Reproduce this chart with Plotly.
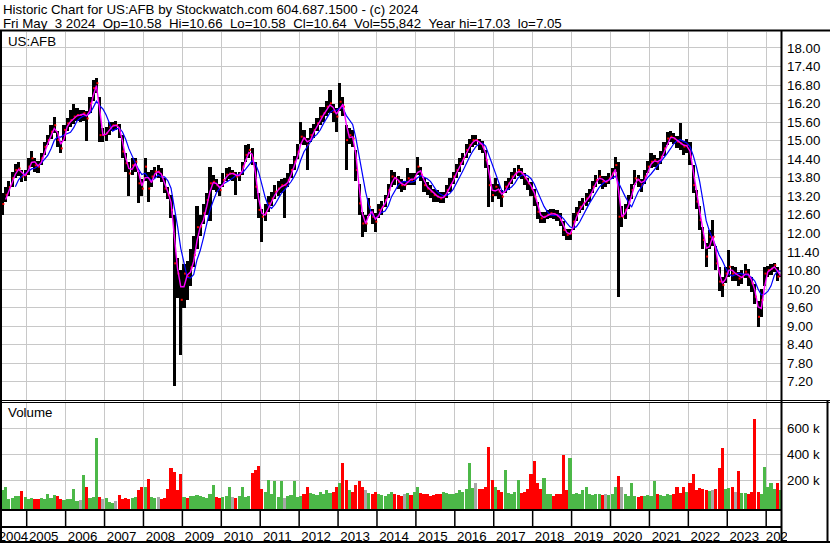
import plotly.graph_objects as go
import pandas as pd

# ---------------- data (monthly, May 2004 .. May 2024) ----------------
START_YEAR, START_MONTH = 2004, 5

close = [
    12.95, 13.25, 13.5, 13.78, 14.05, 14.1, 13.84, 13.9,
    14.16, 14.43, 14.2, 14.16, 14.43, 14.8, 15.02, 15.29, 15.5, 15.02, 14.75, 15.35,
    15.56, 15.67, 15.78, 15.83, 15.83, 15.89, 15.72, 16.21, 16.7, 16.86, 15.18, 15.18,
    15.24, 15.45, 15.5, 15.5, 15.35, 14.65, 14.27, 13.94, 14.2, 14.32, 13.62, 13.45,
    14.16, 13.45, 13.84, 14.0, 14.0, 13.84, 13.45, 13.25, 12.76, 11.03, 10.7, 9.85,
    10.7, 10.6, 10.9, 11.3, 12.2, 12.22, 12.65, 13.08, 13.62, 13.67, 13.56, 13.4,
    13.73, 13.9, 13.94, 13.94, 13.84, 13.9, 14.16, 14.54, 14.7, 14.43, 13.51, 12.76,
    12.54, 12.65, 12.97, 13.13, 13.35, 13.45, 13.56, 13.56, 13.73, 14.05, 14.32, 14.64,
    15.13, 15.07, 14.86, 15.18, 15.35, 15.56, 15.78, 15.89, 16.1, 16.21, 15.94, 15.78,
    16.26, 16.1, 15.02, 15.18, 15.07, 14.05, 12.97, 12.32, 12.32, 12.86, 12.54, 12.38,
    12.76, 12.86, 13.08, 13.4, 13.84, 13.78, 13.67, 13.56, 13.56, 13.78, 13.73, 13.78,
    14.16, 13.89, 13.56, 13.45, 13.35, 13.24, 13.19, 13.13, 13.19, 13.4, 13.56, 13.84,
    14.05, 14.27, 14.43, 14.7, 14.86, 15.02, 15.02, 14.91, 14.81, 14.37, 13.56, 13.24,
    13.51, 13.35, 13.19, 13.51, 13.62, 13.84, 13.94, 14.05, 13.94, 13.78, 13.62, 13.45,
    13.19, 12.7, 12.49, 12.54, 12.6, 12.65, 12.63, 12.57, 12.43, 12.11, 11.95, 12.0,
    12.38, 12.65, 12.86, 12.97, 13.13, 13.24, 13.51, 13.73, 13.84, 13.67, 13.67, 13.78,
    13.94, 14.21, 12.54, 12.54, 12.76, 13.02, 13.4, 13.78, 13.73, 13.56, 13.84, 14.16,
    14.32, 14.37, 14.27, 14.48, 14.75, 15.07, 15.13, 15.07, 14.97, 14.91, 14.81, 14.86,
    14.48, 13.56, 13.03, 12.43, 11.79, 11.25, 11.89, 11.89, 11.03, 10.44, 10.33, 10.7,
    10.92, 10.7, 10.7, 10.54, 10.6, 10.76, 10.6, 10.38, 9.95, 9.3, 9.84, 10.7,
    10.81, 10.86, 10.97, 10.6, 10.64,
]
high = [
    13.3, 13.5, 13.7, 14.0, 14.25, 14.3, 14.05, 14.05,
    14.45, 14.65, 14.45, 14.35, 14.6, 14.95, 15.2, 15.5, 15.78, 15.3, 15.0, 15.5,
    15.75, 16.0, 16.2, 16.05, 16.0, 16.0, 15.95, 16.4, 16.95, 17.03, 16.4, 15.4,
    15.45, 15.6, 15.6, 15.65, 15.55, 15.2, 14.6, 14.3, 14.45, 14.45, 14.0, 13.75,
    14.43, 14.0, 14.05, 14.15, 14.2, 14.1, 13.8, 13.5, 13.25, 12.6, 11.2, 10.8,
    11.0, 11.1, 11.5, 11.9, 12.9, 12.6, 12.95, 13.3, 14.15, 13.9, 13.75, 13.6,
    13.95, 14.1, 14.15, 14.05, 14.0, 14.0, 14.3, 14.86, 14.9, 14.75, 14.3, 13.3,
    12.8, 12.95, 13.2, 13.35, 13.55, 13.7, 13.75, 13.8, 13.95, 14.25, 14.5, 14.9,
    15.6, 15.35, 15.1, 15.4, 15.55, 15.75, 16.1, 16.1, 16.3, 16.64, 16.2, 16.05,
    16.88, 16.4, 15.5, 15.4, 15.35, 14.7, 13.6, 12.7, 12.6, 13.15, 12.8, 12.65,
    12.95, 13.05, 13.25, 13.6, 14.05, 14.0, 13.85, 13.75, 13.7, 14.1, 13.95, 13.95,
    14.48, 14.15, 13.8, 13.65, 13.55, 13.45, 13.4, 13.35, 13.35, 13.55, 13.8, 14.0,
    14.25, 14.45, 14.6, 14.9, 15.05, 15.18, 15.2, 15.05, 15.0, 14.7, 14.2, 13.6,
    13.8, 13.6, 13.4, 13.7, 13.8, 14.0, 14.1, 14.2, 14.1, 13.95, 13.8, 13.65,
    13.45, 13.0, 12.7, 12.7, 12.75, 12.8, 12.78, 12.75, 12.65, 12.4, 12.15, 12.15,
    12.65, 12.85, 13.05, 13.15, 13.3, 13.45, 13.7, 13.9, 14.05, 13.85, 13.85, 13.95,
    14.1, 14.48, 14.3, 12.9, 12.95, 13.25, 13.6, 14.05, 13.9, 13.75, 14.05, 14.35,
    14.6, 14.55, 14.45, 14.65, 14.95, 15.29, 15.3, 15.25, 15.15, 15.56, 15.0, 15.05,
    14.95, 14.2, 13.4, 12.9, 12.2, 11.7, 12.1, 12.43, 11.6, 10.9, 10.6, 10.9,
    11.46, 10.95, 10.9, 10.75, 10.8, 11.0, 10.85, 10.6, 10.35, 9.8, 10.2, 10.9,
    10.95, 11.0, 11.05, 10.92, 10.66,
]
low = [
    12.6, 13.0, 13.2, 13.5, 13.8, 13.85, 13.65, 13.7,
    13.9, 14.15, 14.0, 13.95, 14.2, 14.55, 14.85, 15.05, 15.25, 14.8, 14.6, 15.0,
    15.3, 15.45, 15.55, 15.65, 15.6, 15.65, 15.0, 15.9, 16.3, 16.55, 14.95, 14.95,
    15.0, 15.2, 15.3, 15.35, 15.1, 14.45, 14.0, 13.2, 13.9, 14.0, 12.97, 13.2,
    13.7, 13.0, 13.5, 13.8, 13.8, 13.65, 13.3, 13.1, 12.5, 7.05, 9.9, 8.06,
    9.6, 9.85, 10.3, 10.9, 11.5, 11.9, 12.3, 12.6, 12.4, 13.4, 13.35, 13.2,
    13.5, 13.7, 13.75, 13.7, 13.25, 13.7, 13.9, 14.3, 14.45, 14.2, 13.1, 12.5,
    11.73, 12.4, 12.7, 12.9, 13.1, 13.2, 13.3, 12.5, 13.5, 13.8, 14.05, 14.4,
    14.9, 14.85, 14.05, 14.95, 15.1, 15.3, 15.5, 15.6, 15.8, 15.9, 15.6, 15.29,
    15.95, 15.8, 14.05, 14.9, 14.8, 13.7, 12.6, 11.89, 12.05, 12.55, 12.3, 12.05,
    12.5, 12.6, 12.85, 13.15, 13.5, 13.55, 13.45, 13.35, 13.4, 13.55, 13.55, 13.55,
    13.9, 13.7, 13.35, 13.25, 13.15, 13.0, 13.0, 12.97, 12.97, 13.15, 13.35, 13.6,
    13.8, 14.0, 14.2, 14.45, 14.6, 14.8, 14.85, 14.7, 14.6, 14.1, 12.86, 13.0,
    13.2, 13.1, 12.86, 13.3, 13.4, 13.6, 13.75, 13.85, 13.75, 13.55, 13.4, 13.2,
    12.9, 12.45, 12.35, 12.35, 12.45, 12.5, 12.48, 12.4, 12.25, 11.9, 11.78, 11.8,
    12.1, 12.4, 12.65, 12.75, 12.9, 13.0, 13.3, 13.5, 13.6, 13.45, 13.5, 13.6,
    13.75, 14.0, 9.95, 12.2, 12.45, 12.8, 13.1, 13.55, 13.5, 13.35, 13.6, 13.95,
    14.1, 14.15, 14.05, 14.25, 14.5, 14.85, 14.95, 14.9, 14.75, 14.7, 14.55, 14.6,
    14.2, 13.3, 12.8, 12.1, 11.5, 10.92, 11.5, 11.6, 10.8, 10.15, 9.95, 10.4,
    10.6, 10.45, 10.45, 10.3, 10.35, 10.55, 10.3, 10.1, 9.7, 8.98, 9.3, 10.3,
    10.6, 10.65, 10.75, 10.45, 10.58,
]
volume_k = [
    125, 150, 55, 60, 80, 75, 115, 70,
    55, 60, 55, 50, 60, 55, 95, 60, 85, 80, 50, 45,
    50, 55, 130, 40, 45, 240, 150, 65, 70, 523, 70, 50,
    65, 30, 25, 35, 85, 55, 60, 55, 65, 70, 120, 150,
    150, 205, 70, 65, 70, 55, 60, 130, 290, 260, 120, 250,
    70, 65, 75, 80, 85, 75, 70, 65, 90, 160, 70, 65,
    70, 75, 150, 70, 65, 75, 150, 70, 80, 255, 275, 305,
    130, 110, 200, 90, 195, 70, 195, 65, 80, 85, 195, 70,
    80, 90, 150, 100, 90, 85, 110, 95, 120, 100, 110, 150,
    180, 330, 200, 120, 110, 160, 190, 150, 120, 100, 90, 110,
    90, 85, 80, 95, 110, 90, 85, 80, 90, 100, 85, 110,
    150, 100, 90, 95, 80, 85, 90, 95, 110, 100, 95, 90,
    100, 120, 110, 130, 330, 140, 180, 130, 130, 150, 455, 200,
    150, 120, 110, 280, 100, 95, 110, 200, 100, 110, 130, 250,
    345, 175, 130, 213, 95, 90, 80, 95, 90, 395, 120, 370,
    90, 100, 90, 120, 150, 90, 85, 95, 90, 85, 90, 85,
    90, 150, 230, 150, 90, 80, 175, 75, 70, 80, 75, 85,
    80, 195, 90, 85, 80, 90, 85, 90, 150, 100, 150, 110,
    175, 250, 120, 140, 130, 120, 115, 120, 130, 290, 445, 130,
    135, 150, 110, 270, 100, 100, 95, 110, 672, 110, 95, 300,
    150, 175, 130, 175, 120,
]
price_ticks = [7.20, 7.80, 8.40, 9.00, 9.60, 10.20, 10.80, 11.40, 12.00, 12.60,
               13.20, 13.80, 14.40, 15.00, 15.60, 16.20, 16.80, 17.40, 18.00]
volume_ticks = [200000, 400000, 600000]
volume_tick_text = ["200 k", "400 k", "600 k"]
years = list(range(2004, 2025))

title_1 = "Historic Chart for US:AFB by Stockwatch.com 604.687.1500 - (c) 2024"
title_2 = ("Fri May  3 2024  Op=10.58  Hi=10.66  Lo=10.58  Cl=10.64  "
           "Vol=55,842  Year hi=17.03  lo=7.05")
symbol = "US:AFB"

# ---------------- derived ----------------
n = len(close)
xs = []
for i in range(n):
    k = START_MONTH - 1 + i
    y, m = START_YEAR + k // 12, k % 12 + 1
    xs.append(y + (m - 0.5) / 12.0)

s = pd.Series(close)
ma_short = s.rolling(2).mean()
ma_long = s.rolling(5).mean()

vol = [v * 1000 for v in volume_k]
vcol = []
for i in range(n):
    if i == 0 or close[i] > close[i - 1]:
        vcol.append("#4CB848")
    elif close[i] < close[i - 1]:
        vcol.append("#FF0000")
    else:
        vcol.append("#A8A8A8")

# ---------------- layout geometry (pixels) ----------------
W, H = 830, 543
PLOT_R = 781
def fx(px):
    return px / W
def fy(py):
    return 1 - py / H

X0 = 2005 - 26.7 / 38.92
X1 = 2005 + (PLOT_R - 26.7) / 38.92
P_LO = 7.2 + (381.7 - 400) / 30.9
P_HI = 7.2 + (381.7 - 32) / 30.9
VOL_FLOOR = -24000
VOL_TOP = 804000

FONT = "Liberation Sans, Arial, sans-serif"
GRID = "#C8C8C8"

fig = go.Figure()

fig.add_trace(go.Bar(
    x=xs, y=[h - l for h, l in zip(high, low)], base=low, width=0.08,
    marker=dict(color="black", line=dict(width=0)), xaxis="x", yaxis="y"))
fig.add_trace(go.Scatter(
    x=[x + 0.025 for x in xs], y=close, mode="markers",
    marker=dict(symbol="square", size=2, color="#FF0000", line=dict(width=0)),
    xaxis="x", yaxis="y"))
fig.add_trace(go.Scatter(
    x=xs, y=ma_long, mode="lines", line=dict(color="#0000FF", width=1.2),
    xaxis="x", yaxis="y"))
fig.add_trace(go.Scatter(
    x=xs, y=ma_short, mode="lines", line=dict(color="#FF00FF", width=1.4),
    xaxis="x", yaxis="y"))
fig.add_trace(go.Bar(
    x=xs, y=[v - VOL_FLOOR for v in vol], base=VOL_FLOOR, width=0.08,
    marker=dict(color=vcol, line=dict(width=0)), xaxis="x2", yaxis="y2"))

minor_grid = dict(tickmode="array", tickvals=years[1:], showgrid=True,
                  gridcolor=GRID, gridwidth=1, ticks="")

tickpos = []
for yv in years:
    if yv == 2004:
        tickpos.append(2004.66)
    elif yv == 2024:
        tickpos.append(2024.37)
    else:
        tickpos.append(yv + 0.437)

fig.update_layout(
    width=W, height=H, margin=dict(l=0, r=0, t=0, b=0, autoexpand=False),
    paper_bgcolor="white", plot_bgcolor="white",
    showlegend=False, hovermode=False, bargap=0,
    font=dict(family=FONT, size=13.3, color="black"),
    xaxis=dict(domain=[0, fx(PLOT_R)], range=[X0, X1], anchor="y",
               showticklabels=False, showgrid=False, zeroline=False,
               ticks="", minor=minor_grid, showline=False),
    xaxis2=dict(domain=[0, fx(PLOT_R)], range=[X0, X1], anchor="y2",
                matches="x", showgrid=False, zeroline=False, ticks="",
                tickmode="array", tickvals=tickpos, ticktext=[str(y) for y in years],
                ticklabelstandoff=18, ticklabeloverflow="allow", tickangle=0,
                minor=minor_grid, showline=False,
                tickfont=dict(family=FONT, size=13.3, color="black")),
    yaxis=dict(domain=[fy(400), fy(32)], range=[P_LO, P_HI], side="right",
               anchor="x", tickmode="array", tickvals=price_ticks,
               ticktext=[f"{v:.2f}" for v in price_ticks],
               showgrid=True, gridcolor=GRID, gridwidth=1, zeroline=False,
               ticks="", ticklabelstandoff=5,
               tickfont=dict(family=FONT, size=13.3, color="black")),
    yaxis2=dict(domain=[fy(509), fy(402)], range=[VOL_FLOOR, VOL_TOP], side="right",
                anchor="x2", tickmode="array", tickvals=volume_ticks,
                ticktext=volume_tick_text, showgrid=True, gridcolor=GRID,
                gridwidth=1, zeroline=False, ticks="", ticklabelstandoff=5,
                tickfont=dict(family=FONT, size=13.3, color="black")),
)

# ---------------- frame lines ----------------
def hline(y, x0, x1, w):
    fig.add_shape(type="line", xref="paper", yref="paper", layer="above",
                  x0=fx(x0), x1=fx(x1), y0=fy(y), y1=fy(y),
                  line=dict(color="black", width=w))

def vline(x, y0, y1, w):
    fig.add_shape(type="line", xref="paper", yref="paper", layer="above",
                  x0=fx(x), x1=fx(x), y0=fy(y0), y1=fy(y1),
                  line=dict(color="black", width=w))

# white mask clipping the last year label at the right
fig.add_shape(type="rect", xref="paper", yref="paper", layer="above",
              x0=fx(787), x1=fx(826), y0=fy(541), y1=fy(528),
              fillcolor="white", line=dict(width=0))

hline(30.5, 0, W, 2)
vline(1, 30, H, 2)
vline(PLOT_R + 0.5, 30, H, 2)
hline(400.5, 0, W, 1)
hline(402.5, 0, W, 1)
hline(510, 0, PLOT_R, 2)
hline(527, 0, PLOT_R, 2)
hline(542, 0, W, 2)
vline(827.5, 401, H, 2)
for yv in years[1:]:
    xp = 26.7 + (yv - 2005) * 38.92
    vline(xp, 510, 527, 1.5)

# ---------------- texts ----------------
def label(txt, x, y, size=13.3):
    fig.add_annotation(text=txt, xref="paper", yref="paper", x=fx(x), y=fy(y),
                       xanchor="left", yanchor="middle", showarrow=False,
                       font=dict(family=FONT, size=size, color="black"))

label(title_1.replace(" ", "\u00a0"), 1, 9.5)
label(title_2.replace(" ", "\u00a0"), 1, 23.5)
label(symbol, 6, 41)
label("Volume", 6, 413)

fig.write_html(
    "out.html",
    config={"displayModeBar": False, "staticPlot": True},
    post_script=("document.body.style.margin='0';"
                 "document.body.style.padding='0';"
                 "document.body.style.overflow='hidden';"),
)
